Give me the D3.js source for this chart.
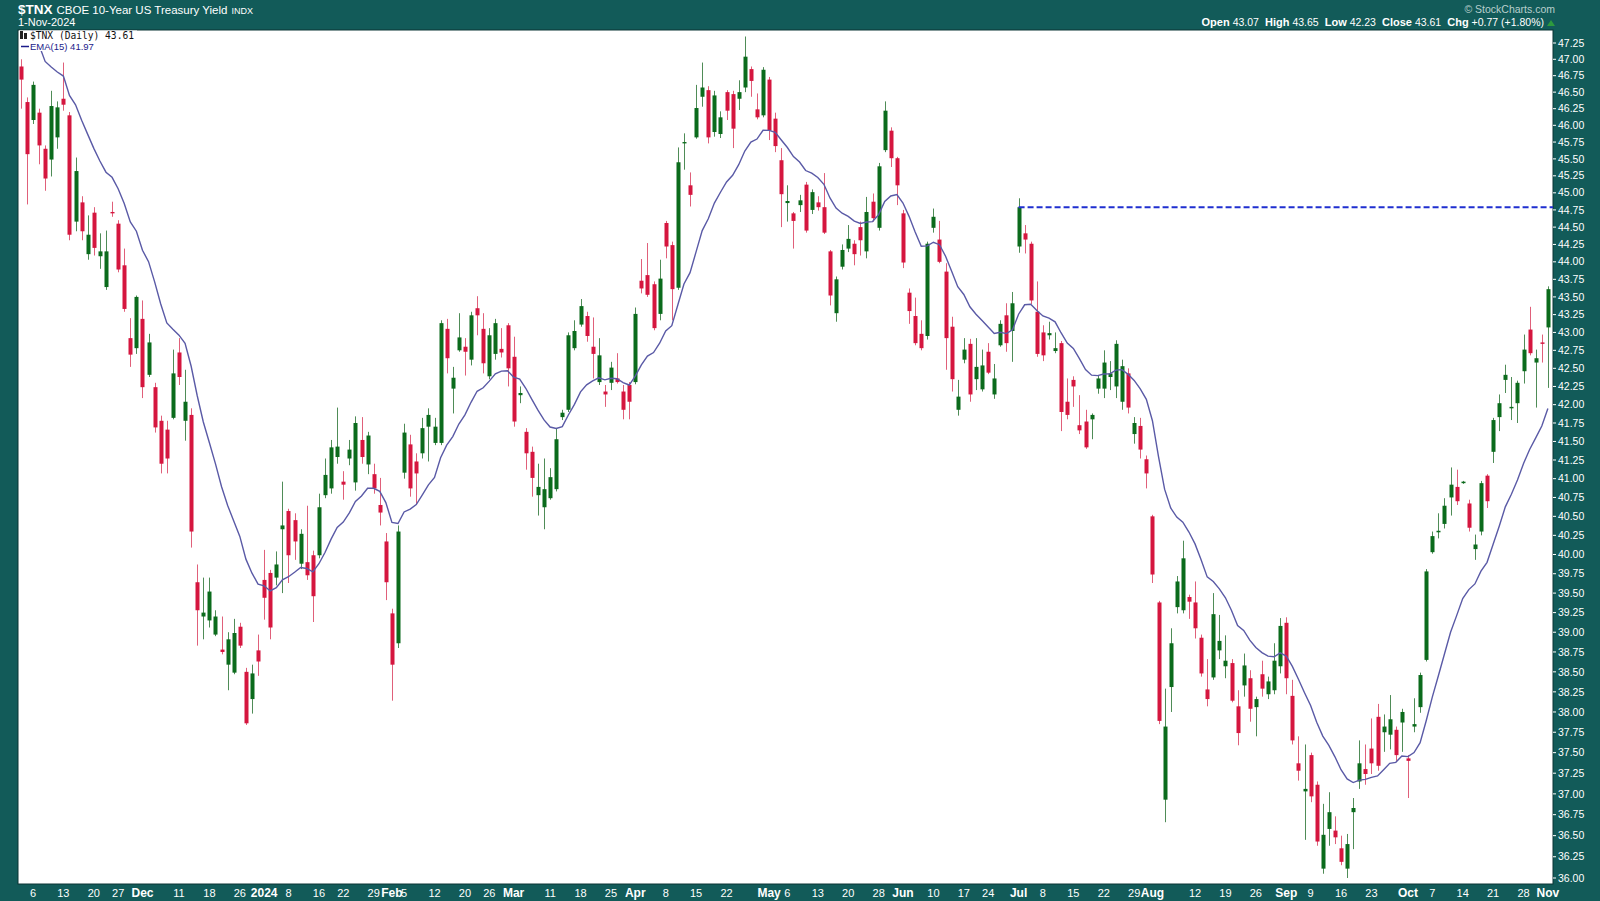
<!DOCTYPE html>
<html><head><meta charset="utf-8">
<script src="https://cdn.jsdelivr.net/npm/d3@7"></script>
<style>html,body{margin:0;padding:0;background:#125b59;overflow:hidden}svg{display:block}</style>
</head><body>
<svg id="chart" width="1600" height="901"></svg>
<script>
// ---- DATA ----
const tradingDays = [
 ["2023-11",[2,3,6,7,8,9,10,13,14,15,16,17,20,21,22,24,27,28,29,30]],
 ["2023-12",[1,4,5,6,7,8,11,12,13,14,15,18,19,20,21,22,26,27,28,29]],
 ["2024-01",[2,3,4,5,8,9,10,11,12,16,17,18,19,22,23,24,25,26,29,30,31]],
 ["2024-02",[1,2,5,6,7,8,9,12,13,14,15,16,20,21,22,23,26,27,28,29]],
 ["2024-03",[1,4,5,6,7,8,11,12,13,14,15,18,19,20,21,22,25,26,27,28]],
 ["2024-04",[1,2,3,4,5,8,9,10,11,12,15,16,17,18,19,22,23,24,25,26,29,30]],
 ["2024-05",[1,2,3,6,7,8,9,10,13,14,15,16,17,20,21,22,23,24,28,29,30,31]],
 ["2024-06",[3,4,5,6,7,10,11,12,13,14,17,18,20,21,24,25,26,27,28]],
 ["2024-07",[1,2,3,5,8,9,10,11,12,15,16,17,18,19,22,23,24,25,26,29,30,31]],
 ["2024-08",[1,2,5,6,7,8,9,12,13,14,15,16,19,20,21,22,23,26,27,28,29,30]],
 ["2024-09",[3,4,5,6,9,10,11,12,13,16,17,18,19,20,23,24,25,26,27,30]],
 ["2024-10",[1,2,3,4,7,8,9,10,11,14,15,16,17,18,21,22,23,24,25,28,29,30,31]],
 ["2024-11",[1]]
];
const opens = [
46.89,46.35,46.08,46.19,45.65,45.49,45.82,46.40,46.15,44.58,
44.86,44.11,44.71,44.08,43.64,44.72,44.55,43.95,42.92,42.78,
43.19,42.41,42.24,41.78,41.66,41.82,42.72,41.78,41.86,39.64,
39.20,39.15,38.97,38.78,38.59,38.49,39.07,38.50,38.16,38.77,
39.67,39.76,39.70,40.33,40.57,40.45,39.88,39.90,39.99,39.99,
40.78,40.87,41.29,40.96,41.27,40.95,41.52,41.19,41.06,40.65,
40.17,39.24,38.86,41.08,41.46,41.23,41.34,41.70,41.48,41.48,
43.05,42.22,42.75,42.80,42.62,43.34,43.05,42.39,42.70,42.77,
43.10,42.66,42.13,41.63,41.36,40.78,40.62,40.74,40.86,41.83,
41.93,42.78,43.11,43.23,42.80,42.31,42.18,42.30,42.36,42.18,
42.27,42.31,43.73,43.81,43.68,43.26,44.56,44.24,43.63,45.73,
45.11,45.82,46.43,46.53,45.90,45.87,46.50,46.47,46.40,46.57,
46.85,46.24,46.15,46.69,46.10,45.48,44.85,44.70,44.82,45.12,
44.75,44.86,44.79,44.15,43.27,43.93,44.19,44.26,44.50,44.15,
44.87,44.49,45.63,45.92,45.51,44.70,43.56,43.23,42.98,42.95,
44.49,44.32,43.86,43.08,41.93,42.62,42.84,42.35,42.21,42.73,
42.14,42.82,43.24,43.02,44.22,44.41,44.26,43.29,43.00,42.96,
42.74,42.85,42.04,42.34,41.72,41.77,41.80,42.22,42.22,42.38,
42.25,42.04,42.43,41.60,41.71,41.26,40.50,39.38,36.93,38.31,
39.32,39.28,39.45,39.38,38.93,38.28,38.43,38.77,38.57,38.61,
38.07,38.33,38.42,38.06,38.47,38.22,38.27,38.57,39.12,38.20,
37.37,37.03,37.47,37.11,36.11,36.58,36.56,36.35,36.11,36.78,
37.15,37.30,37.55,37.94,37.75,37.72,37.78,37.87,37.43,37.82,
38.06,38.65,40.03,40.29,40.40,40.75,40.89,40.94,40.67,40.07,
40.30,41.04,41.36,41.83,42.34,41.95,42.02,42.46,43.04,42.58,
42.86,43.07];
const highs = [
47.00,46.42,46.66,46.25,45.70,46.52,46.36,46.95,46.20,45.52,
44.95,44.67,44.79,44.41,44.45,44.87,44.60,44.19,43.20,43.52,
43.45,42.98,42.30,41.85,41.78,42.76,42.92,42.48,41.95,39.87,
39.70,39.70,39.28,39.20,39.00,39.17,39.12,38.55,38.59,38.97,
40.06,39.80,40.04,40.96,40.60,40.54,40.33,40.64,40.05,40.80,
41.27,41.52,41.96,41.10,41.52,41.84,41.83,41.63,41.20,41.01,
40.28,39.30,40.38,41.74,41.59,41.34,41.82,41.95,41.82,43.17,
43.19,42.52,43.27,42.92,43.29,43.51,43.27,43.06,43.19,43.06,
43.13,42.94,42.25,41.68,41.43,41.20,41.27,41.14,41.68,41.93,
43.00,43.17,43.47,43.29,43.21,42.92,42.27,42.59,42.71,42.27,
42.31,43.35,44.04,44.27,43.72,44.03,44.59,44.29,45.67,45.88,
45.30,46.61,46.95,46.59,46.52,46.21,46.53,46.52,46.68,47.35,
46.89,46.48,46.88,46.73,46.19,45.66,45.11,44.72,44.97,45.16,
45.05,44.95,45.29,44.17,43.79,44.25,44.53,44.31,44.58,44.94,
44.99,45.44,46.36,45.97,45.53,44.75,43.62,43.49,43.17,44.29,
44.77,44.59,43.98,43.22,42.34,42.92,42.91,42.92,42.76,42.85,
42.56,43.17,43.41,43.57,44.92,44.53,44.29,43.72,43.10,43.15,
43.00,42.88,42.36,42.39,42.13,41.93,41.88,42.40,42.75,42.60,
42.89,42.62,42.50,41.83,41.82,41.31,40.52,39.40,38.29,39.05,
39.72,40.18,39.48,39.65,38.97,38.66,39.50,39.22,38.96,38.66,
38.27,38.73,38.52,38.19,38.64,38.44,38.86,39.18,39.19,38.40,
37.70,37.60,37.50,37.15,36.88,37.02,36.73,36.50,36.52,36.95,
37.65,37.60,37.92,38.10,37.97,38.21,37.82,38.04,37.47,38.17,
38.49,39.81,40.30,40.54,40.74,41.15,41.12,40.97,40.72,40.26,
40.97,41.06,41.82,42.14,42.55,42.38,42.33,42.97,43.36,42.76,
42.97,43.65];
const lows = [
46.25,44.83,46.02,45.42,45.03,45.24,45.65,46.22,44.31,44.44,
44.31,44.03,44.09,43.90,43.60,44.65,43.85,43.29,42.52,42.70,
42.09,42.38,41.62,41.07,41.07,41.80,42.27,41.51,40.09,38.83,
38.91,39.06,38.95,38.72,38.27,38.47,38.80,37.84,37.98,38.45,
39.16,38.91,39.60,39.50,39.63,39.93,39.81,39.67,39.13,39.95,
40.74,40.80,41.20,40.72,41.18,40.84,41.20,41.06,40.80,40.38,
39.41,38.14,38.80,41.00,40.76,40.65,41.27,41.23,41.45,41.45,
42.43,41.88,42.73,42.40,42.54,42.96,42.43,42.35,42.62,42.65,
42.25,41.70,42.02,41.12,40.76,40.51,40.33,40.72,40.83,41.79,
41.90,42.75,43.08,42.87,42.36,42.27,41.97,42.20,42.29,41.80,
41.80,42.28,43.55,43.50,43.03,43.17,44.05,43.17,43.60,45.34,
44.80,45.80,46.28,45.73,45.83,45.81,46.08,45.66,46.23,46.50,
46.43,46.09,46.12,45.78,45.60,44.50,44.58,44.19,44.72,44.42,
44.69,44.74,44.40,43.38,43.15,43.89,44.14,43.95,44.09,44.05,
44.58,44.45,45.60,45.38,44.82,43.91,43.12,42.82,42.75,42.90,
44.42,43.98,42.48,42.18,41.85,42.57,42.04,42.20,42.18,42.42,
42.08,42.80,42.73,42.59,44.13,44.12,43.40,42.66,42.60,42.90,
42.71,41.64,41.80,41.97,41.60,41.40,41.53,42.15,42.09,42.20,
42.09,41.93,41.88,41.47,41.27,40.87,39.63,37.85,36.66,38.00,
39.24,39.24,39.17,38.92,38.44,38.07,38.40,38.66,38.42,38.12,
37.59,38.19,37.88,37.70,38.19,38.16,38.22,38.48,38.22,37.60,
37.16,36.45,36.90,36.38,36.05,36.38,36.40,36.15,36.00,36.34,
37.06,37.11,37.24,37.28,37.51,37.54,37.40,37.51,36.95,37.75,
37.99,38.63,40.01,40.21,40.34,40.51,40.65,40.93,40.30,39.93,
40.25,40.61,41.21,41.64,42.16,41.79,41.75,42.29,42.68,41.96,
42.58,42.23];
const closes = [
46.69,45.57,46.61,45.70,45.21,46.29,46.27,46.31,44.39,45.32,
44.44,44.39,44.20,44.15,44.15,44.70,43.89,43.33,42.69,43.50,
42.24,42.86,41.69,41.20,41.27,42.43,42.38,42.04,40.30,39.28,
39.25,39.52,39.20,38.75,38.91,38.99,38.83,37.86,38.48,38.63,
39.44,39.06,39.87,40.38,39.99,40.17,40.27,39.73,39.46,40.62,
41.05,41.42,41.43,40.92,41.39,41.75,41.29,41.58,40.87,40.55,
39.64,38.59,40.30,41.62,40.87,41.07,41.68,41.86,41.70,43.13,
42.64,42.37,42.93,42.73,43.24,43.24,42.57,42.96,43.13,42.72,
42.50,41.77,42.16,41.34,41.01,40.89,40.86,41.02,41.53,41.89,
42.96,43.02,43.37,42.95,42.70,42.68,42.14,42.51,42.31,41.93,
42.04,43.26,43.62,43.53,43.06,43.76,44.22,43.61,45.45,45.75,
44.97,46.26,46.57,45.82,46.45,46.12,46.22,45.95,46.50,47.04,
46.67,46.12,46.84,45.92,45.69,44.98,44.88,44.59,44.89,44.45,
45.01,44.79,44.42,43.52,43.75,44.17,44.33,44.11,44.31,44.72,
44.63,45.39,46.22,45.51,45.11,43.99,43.30,42.85,42.78,44.26,
44.65,44.00,42.92,42.35,42.11,42.76,42.14,42.52,42.54,42.44,
42.36,43.12,42.85,43.41,44.79,44.32,43.45,42.70,42.68,42.99,
42.78,41.90,41.86,42.25,41.65,41.42,41.86,42.36,42.58,42.43,
42.84,42.53,41.96,41.75,41.39,41.07,39.74,37.89,37.82,38.86,
39.65,39.95,39.39,39.05,38.48,38.16,39.23,38.89,38.64,38.14,
37.74,38.58,38.04,38.16,38.29,38.38,38.64,39.08,38.42,37.65,
37.28,37.06,36.97,36.43,36.51,36.78,36.48,36.19,36.40,36.83,
37.37,37.24,37.37,37.34,37.82,37.91,37.47,38.00,37.40,37.85,
38.46,39.78,40.24,40.31,40.64,40.92,40.70,40.96,40.35,40.13,
40.94,40.70,41.79,42.02,42.41,41.97,42.30,42.76,42.71,42.64,
42.84,43.61];
const emaPeriod = 15;
const emaSeed = 48.0;            // EMA value just before the first visible bar
const resistanceLevel = 44.79;   // dashed line level
const resistanceStart = "2024-07-01";
const yTickValues = d3.range(36, 47.26, 0.25);
const xTickLabels = [
 ["2023-11-06","6"],["2023-11-13","13"],["2023-11-20","20"],["2023-11-27","27"],["2023-12-01","Dec",1],
 ["2023-12-11","11"],["2023-12-18","18"],["2023-12-26","26"],["2024-01-02","2024",1],["2024-01-08","8"],
 ["2024-01-16","16"],["2024-01-22","22"],["2024-01-29","29"],["2024-02-01","Feb",1],["2024-02-05","5"],
 ["2024-02-12","12"],["2024-02-20","20"],["2024-02-26","26"],["2024-03-01","Mar",1],["2024-03-11","11"],
 ["2024-03-18","18"],["2024-03-25","25"],["2024-04-01","Apr",1],["2024-04-08","8"],["2024-04-15","15"],
 ["2024-04-22","22"],["2024-05-01","May",1],["2024-05-06","6"],["2024-05-13","13"],["2024-05-20","20"],
 ["2024-05-28","28"],["2024-06-03","Jun",1],["2024-06-10","10"],["2024-06-17","17"],["2024-06-24","24"],
 ["2024-07-01","Jul",1],["2024-07-08","8"],["2024-07-15","15"],["2024-07-22","22"],["2024-07-29","29"],
 ["2024-08-01","Aug",1],["2024-08-12","12"],["2024-08-19","19"],["2024-08-26","26"],["2024-09-03","Sep",1],
 ["2024-09-09","9"],["2024-09-16","16"],["2024-09-23","23"],["2024-10-01","Oct",1],["2024-10-07","7"],
 ["2024-10-14","14"],["2024-10-21","21"],["2024-10-28","28"],["2024-11-01","Nov",1]
];

// ---- BUILD ----
const dates = [];
tradingDays.forEach(([m, ds]) => ds.forEach(d => dates.push(m + "-" + String(d).padStart(2, "0"))));
const bars = dates.map((d, i) => ({i, date: d, o: opens[i], h: highs[i], l: lows[i], c: closes[i]}));
const ema = [];
let prev = emaSeed;
const k = 2 / (emaPeriod + 1);
bars.forEach(b => { prev = prev + k * (b.c - prev); ema.push({i: b.i, v: prev}); });
const idxOf = d => dates.indexOf(d);

const W = 1600, H = 901;
const plot = {l: 18, t: 30, r: 1553, b: 884};
const teal = "#125b59";
const green = "#0b6b1c", red = "#d5163f";

const svg = d3.select("#chart");
svg.append("rect").attr("width", W).attr("height", H).attr("fill", teal);
svg.append("rect").attr("x", plot.l).attr("y", plot.t).attr("width", plot.r - plot.l).attr("height", plot.b - plot.t)
  .attr("fill", "#ffffff").attr("stroke", "#0b3534").attr("stroke-width", 1);

const x = d3.scaleLinear().domain([-0.46, 251.84]).range([plot.l, plot.r]);
const y = d3.scaleLog().domain([36, 47.25]).range([878, 43]);

svg.append("clipPath").attr("id", "clip").append("rect")
  .attr("x", plot.l).attr("y", plot.t).attr("width", plot.r - plot.l).attr("height", plot.b - plot.t);
const g = svg.append("g").attr("clip-path", "url(#clip)");

// candles
const cg = g.append("g");
const bodyW = 4;
cg.selectAll("line.wick").data(bars).join("line").attr("class", "wick")
  .attr("x1", d => Math.round(x(d.i)) + 0.5).attr("x2", d => Math.round(x(d.i)) + 0.5)
  .attr("y1", d => y(d.h)).attr("y2", d => y(d.l))
  .attr("stroke", d => d.c >= d.o ? "#4f8c57" : "#e0607a").attr("stroke-width", 1);
cg.selectAll("rect.body").data(bars).join("rect").attr("class", "body")
  .attr("x", d => Math.round(x(d.i)) + 0.5 - bodyW / 2)
  .attr("width", bodyW)
  .attr("y", d => y(Math.max(d.o, d.c)))
  .attr("height", d => Math.max(1.2, y(Math.min(d.o, d.c)) - y(Math.max(d.o, d.c))))
  .attr("fill", d => d.c >= d.o ? green : red);

// EMA
g.append("path").datum(ema)
  .attr("d", d3.line().x(d => x(d.i)).y(d => y(d.v)).curve(d3.curveLinear))
  .attr("fill", "none").attr("stroke", "#5a5aa6").attr("stroke-width", 1.4);

// resistance dashed line
g.append("line")
  .attr("x1", x(idxOf(resistanceStart))).attr("x2", plot.r)
  .attr("y1", y(resistanceLevel)).attr("y2", y(resistanceLevel))
  .attr("stroke", "#1f2fd0").attr("stroke-width", 2).attr("stroke-dasharray", "6,3");

// right axis
const ya = svg.append("g");
yTickValues.forEach(v => {
  ya.append("line").attr("x1", plot.r).attr("x2", plot.r + 3).attr("y1", y(v)).attr("y2", y(v))
    .attr("stroke", "#ffffff").attr("stroke-width", 1);
  ya.append("text").attr("x", plot.r + 5).attr("y", y(v)).attr("dy", "0.35em")
    .attr("fill", "#ffffff").attr("font-family", "'Liberation Sans', Arial, sans-serif").attr("font-size", 10.5)
    .text(v.toFixed(2));
});

// bottom axis
const xa = svg.append("g");
xTickLabels.forEach(([d, lab, bold]) => {
  xa.append("text").attr("x", x(idxOf(d))).attr("y", 893).attr("dy", "0.35em")
    .attr("text-anchor", "middle").attr("fill", "#ffffff")
    .attr("font-family", "'Liberation Sans Narrow','Arial Narrow','Liberation Sans',sans-serif")
    .attr("font-size", bold ? 12 : 11).attr("font-weight", bold ? "bold" : "normal")
    .text(lab);
});

// header
const hf = "'Liberation Sans', Arial, sans-serif";
const h1 = svg.append("text").attr("x", 18).attr("y", 14).attr("fill", "#fff").attr("font-family", hf);
h1.append("tspan").attr("font-size", 13.5).attr("font-weight", "bold").text("$TNX");
h1.append("tspan").attr("font-size", 11.5).attr("dx", 4).text("CBOE 10-Year US Treasury Yield");
h1.append("tspan").attr("font-size", 9).attr("dx", 4).text("INDX");
svg.append("text").attr("x", 18).attr("y", 26).attr("fill", "#fff").attr("font-family", hf)
  .attr("font-size", 11).text("1-Nov-2024");
svg.append("text").attr("x", 1555).attr("y", 13).attr("text-anchor", "end").attr("fill", "#b9cfcd")
  .attr("font-family", hf).attr("font-size", 10.5).text("\u00A9 StockCharts.com");
const h2 = svg.append("text").attr("x", 1544).attr("y", 26).attr("text-anchor", "end").attr("fill", "#fff")
  .attr("font-family", hf).attr("font-size", 11);
[["Open", "43.07"], ["High", "43.65"], ["Low", "42.23"], ["Close", "43.61"], ["Chg", "+0.77 (+1.80%)"]].forEach(([a, b], j) => {
  h2.append("tspan").attr("font-weight", "bold").attr("dx", j ? 6 : 0).text(a);
  h2.append("tspan").attr("dx", 3).attr("font-size", 10.5).text(b);
});
svg.append("path").attr("d", "M1547,26 L1551,20 L1555,26 Z").attr("fill", "#2e9a3e");

// legend inside plot (white backing like the original)
svg.append("rect").attr("x", 19).attr("y", 30.5).attr("width", 118).attr("height", 10.5).attr("fill", "#ffffff");
svg.append("rect").attr("x", 19).attr("y", 41).attr("width", 78).attr("height", 10).attr("fill", "#ffffff");
svg.append("rect").attr("x", 20).attr("y", 31).attr("width", 3).attr("height", 8).attr("fill", "#222");
svg.append("rect").attr("x", 24).attr("y", 33).attr("width", 3).attr("height", 6).attr("fill", "#222");
svg.append("text").attr("x", 30).attr("y", 39).attr("fill", "#111")
  .attr("font-family", "'DejaVu Sans Mono', monospace").attr("font-size", 9.6).text("$TNX (Daily) 43.61");
svg.append("line").attr("x1", 21).attr("x2", 29).attr("y1", 46.5).attr("y2", 46.5).attr("stroke", "#1b1b8a").attr("stroke-width", 1.5);
svg.append("text").attr("x", 30).attr("y", 50).attr("fill", "#1b1b8a")
  .attr("font-family", hf).attr("font-size", 9.5).text("EMA(15) 41.97");
</script>
</body></html>
